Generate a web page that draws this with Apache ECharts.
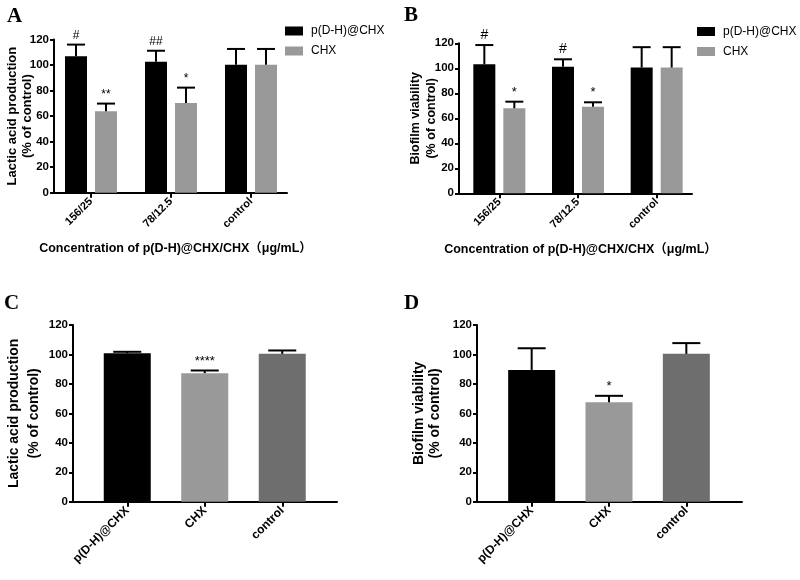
<!DOCTYPE html>
<html>
<head>
<meta charset="utf-8">
<script src="https://cdn.jsdelivr.net/npm/echarts@6/dist/echarts.min.js"></script>
<style>html,body{margin:0;padding:0;background:#fff}#c{width:800px;height:580px}</style>
</head>
<body>
<div id="c"></div>
<script>
// ---------- data ----------
const catsAB = ['156/25', '78/12.5', 'control'];
const catsCD = ['p(D-H)@CHX', 'CHX', 'control'];
const seriesNames = ['p(D-H)@CHX', 'CHX'];

// Panel A: lactic acid production (% of control)
const A_pdh = [106.8, 102.5, 100.3];
const A_pdhErr = [9.2, 8.7, 12.3];
const A_chx = [63.8, 70.3, 100.3];
const A_chxErr = [6.0, 12.0, 12.3];
const A_pdhSig = ['#', '##', ''];
const A_chxSig = ['**', '*', ''];

// Panel B: biofilm viability (% of control)
const B_pdh = [103.2, 101.3, 100.6];
const B_pdhErr = [15.4, 5.9, 16.3];
const B_chx = [68.0, 69.3, 100.6];
const B_chxErr = [5.3, 3.5, 16.3];
const B_pdhSig = ['#', '#', ''];
const B_chxSig = ['*', '*', ''];

// Panel C: lactic acid production
const C_vals = [100.8, 87.3, 100.4];
const C_err = [1.0, 1.8, 2.3];
const C_sig = ['', '****', ''];

// Panel D: biofilm viability
const D_vals = [89.5, 67.6, 100.4];
const D_err = [14.7, 4.3, 7.3];
const D_sig = ['', '*', ''];

const yMin = 0, yMax = 120, yStep = 20;

// ---------- styles ----------
const F = "'Liberation Sans', Arial, 'Noto Sans CJK SC', sans-serif";
const BLACK = '#000000', GRAY = '#999999', DARK = '#6e6e6e';
const cdColors = [BLACK, GRAY, DARK];

const xTitle = 'Concentration of p(D-H)@CHX/CHX（μg/mL）';

const panels = [
  {frame: {left: 54, top: 39.5, width: 233, height: 153.2}, bars: {left: 51, width: 240},
   cats: catsAB, yName: 'Lactic acid production\n(% of control)', yNameSize: 13, yLH: 15, yGap: 19.5, xName: xTitle,
   lblSize: 11},
  {frame: {left: 459, top: 43.3, width: 233, height: 150}, bars: {left: 460, width: 236},
   cats: catsAB, yName: 'Biofilm viability\n(% of control)', yNameSize: 12.5, yLH: 16.5, yGap: 19, xName: xTitle,
   lblSize: 11},
  {frame: {left: 73, top: 325, width: 264, height: 176.7}, bars: {left: 88.5, width: 232.5},
   cats: catsCD, yName: 'Lactic acid production\n(% of control)', yNameSize: 14, yLH: 20, yGap: 29, xName: '',
   lblSize: 12},
  {frame: {left: 477, top: 325, width: 265, height: 176.7}, bars: {left: 493, width: 232},
   cats: catsCD, yName: 'Biofilm viability\n(% of control)', yNameSize: 14, yLH: 16, yGap: 34, xName: '',
   lblSize: 12}
];

const grids = [], xAxes = [], yAxes = [];
panels.forEach((p, k) => {
  grids.push(Object.assign({}, p.frame));
  grids.push({left: p.bars.left, width: p.bars.width, top: p.frame.top, height: p.frame.height});
  // frame axes
  xAxes.push({
    gridIndex: 2 * k, type: 'value', min: 0, max: 1,
    axisLine: {show: true, lineStyle: {color: BLACK, width: 2}},
    axisTick: {show: false}, axisLabel: {show: false}, splitLine: {show: false},
    name: p.xName, nameLocation: 'middle', nameGap: 50, nameMoveOverlap: false,
    nameTextStyle: {fontFamily: F, fontWeight: 'bold', fontSize: 12.5, color: BLACK, padding: [0, 0, 0, 10]}
  });
  yAxes.push({
    gridIndex: 2 * k, type: 'value', min: yMin, max: yMax, interval: yStep,
    axisLine: {show: true, lineStyle: {color: BLACK, width: 2}},
    axisTick: {show: true, length: 4, lineStyle: {color: BLACK, width: 2}},
    axisLabel: {fontFamily: F, fontWeight: 'bold', fontSize: 11.5, color: BLACK, margin: 5},
    splitLine: {show: false},
    name: p.yName, nameLocation: 'middle', nameRotate: 90, nameGap: p.yGap, nameMoveOverlap: false,
    nameTextStyle: {fontFamily: F, fontWeight: 'bold', fontSize: p.yNameSize, lineHeight: p.yLH, color: BLACK, align: 'center'}
  });
  // bar axes
  xAxes.push({
    gridIndex: 2 * k + 1, type: 'category', data: p.cats,
    axisLine: {show: false},
    axisTick: {show: true, alignWithLabel: true, length: 5, lineStyle: {color: BLACK, width: 2}},
    axisLabel: {rotate: 45, fontFamily: F, fontWeight: 'bold', fontSize: p.lblSize, color: BLACK, margin: 7, interval: 0},
    splitLine: {show: false}
  });
  yAxes.push({gridIndex: 2 * k + 1, type: 'value', min: yMin, max: yMax, show: false});
});

function errSeries(axisIdx, vals, errs, sigs, dx, cap, fs) {
  return {
    type: 'custom', xAxisIndex: axisIdx, yAxisIndex: axisIdx, z: 5, silent: true,
    data: vals.map((v, i) => [i, v + errs[i]]),
    encode: {x: 0, y: 1},
    renderItem: function (params, api) {
      const i = params.dataIndex;
      const base = api.coord([i, vals[i]]);
      const top = api.coord([i, vals[i] + errs[i]]);
      const x = base[0] + dx;
      const ch = [
        {type: 'line', shape: {x1: x, y1: base[1], x2: x, y2: top[1]}, style: {stroke: BLACK, lineWidth: 2}},
        {type: 'line', shape: {x1: x - cap, y1: top[1], x2: x + cap, y2: top[1]}, style: {stroke: BLACK, lineWidth: 2}}
      ];
      if (sigs[i]) {
        ch.push({type: 'text', style: {text: sigs[i], x: x, y: top[1] - 3, align: 'center', verticalAlign: 'bottom',
          fontSize: fs, fontFamily: F, fill: BLACK}});
      }
      return {type: 'group', children: ch};
    }
  };
}

function barSeries(name, axisIdx, vals, color) {
  return {name: name, type: 'bar', xAxisIndex: axisIdx, yAxisIndex: axisIdx, data: vals,
    barWidth: 22, barGap: '36.4%', itemStyle: {color: color}, silent: true};
}

const series = [
  barSeries(seriesNames[0], 1, A_pdh, BLACK),
  barSeries(seriesNames[1], 1, A_chx, GRAY),
  errSeries(1, A_pdh, A_pdhErr, A_pdhSig, -15, 9, 12),
  errSeries(1, A_chx, A_chxErr, A_chxSig, 15, 9, 12),
  barSeries(seriesNames[0], 3, B_pdh, BLACK),
  barSeries(seriesNames[1], 3, B_chx, GRAY),
  errSeries(3, B_pdh, B_pdhErr, B_pdhSig, -15, 9, 14),
  errSeries(3, B_chx, B_chxErr, B_chxSig, 15, 9, 13),
  {name: 'C', type: 'bar', xAxisIndex: 5, yAxisIndex: 5, barWidth: 47, silent: true,
   data: C_vals.map((v, i) => ({value: v, itemStyle: {color: cdColors[i]}}))},
  errSeries(5, C_vals, C_err, C_sig, 0, 14, 13),
  {name: 'D', type: 'bar', xAxisIndex: 7, yAxisIndex: 7, barWidth: 47, silent: true,
   data: D_vals.map((v, i) => ({value: v, itemStyle: {color: cdColors[i]}}))},
  errSeries(7, D_vals, D_err, D_sig, 0, 14, 13)
];

const legendCommon = {orient: 'vertical', icon: 'rect', itemWidth: 18, itemHeight: 9, itemGap: 8,
  padding: 0, selectedMode: false, data: seriesNames,
  textStyle: {fontFamily: F, fontSize: 12, color: BLACK, padding: [0, 0, 0, 3]}};

const titleStyle = {fontFamily: "'Liberation Serif', 'Times New Roman', serif", fontWeight: 'bold', fontSize: 21, color: BLACK};

const option = {
  backgroundColor: '#ffffff',
  animation: false,
  title: [
    {text: 'A', left: 7, top: 6, textStyle: titleStyle, padding: 0},
    {text: 'B', left: 404, top: 5, textStyle: titleStyle, padding: 0},
    {text: 'C', left: 4, top: 293, textStyle: titleStyle, padding: 0},
    {text: 'D', left: 404, top: 293, textStyle: titleStyle, padding: 0}
  ],
  legend: [
    Object.assign({left: 285, top: 25}, legendCommon),
    Object.assign({left: 697, top: 25.5}, legendCommon)
  ],
  grid: grids,
  xAxis: xAxes,
  yAxis: yAxes,
  series: series
};

const chart = echarts.init(document.getElementById('c'), null, {renderer: 'canvas'});
chart.setOption(option);
</script>
</body>
</html>
